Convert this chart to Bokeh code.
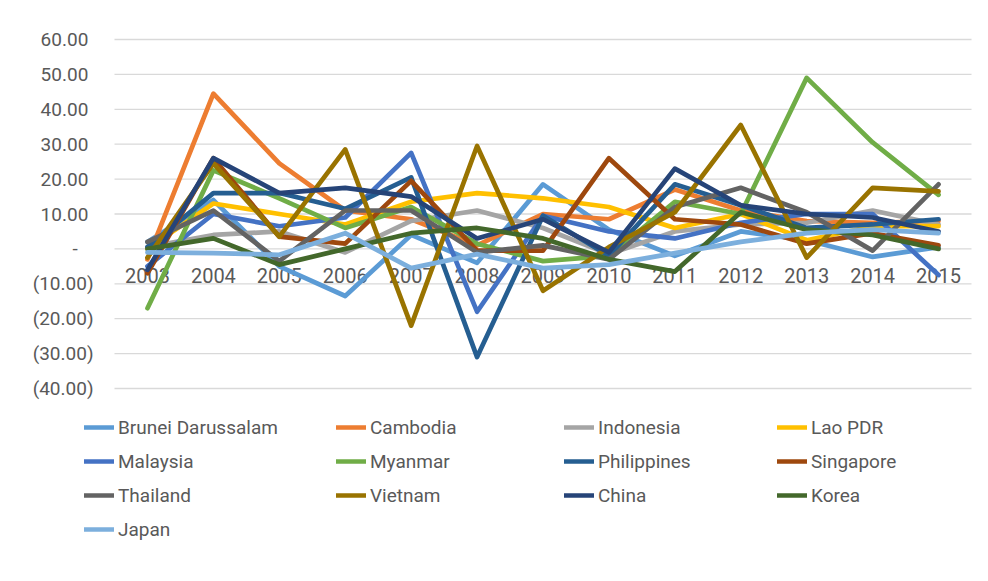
from bokeh.plotting import figure
from bokeh.models import Range1d, Legend, LegendItem, ColumnDataSource
from bokeh.core.properties import value
from bokeh.embed import file_html
from bokeh.resources import INLINE

years = [2003, 2004, 2005, 2006, 2007, 2008, 2009, 2010, 2011, 2012, 2013, 2014, 2015]

brunei = [2, 14, -5, -13.5, 4, -4, 18.5, 5.5, -2, 5, 2.5, -2.3, 0.5]
cambodia = [-3, 44.5, 24.5, 11, 8.5, 1, 10, 8.5, 17, 11, 8, 7.5, 8]
indonesia = [0.5, 4, 5, -1, 8, 11, 6, -1.5, 5, 7, 7.5, 11, 7]
lao = [0, 13, 10, 7, 13.5, 16, 14.5, 12, 6, 10, 2.5, 6.5, 6.5]
malaysia = [-5, 10, 6.5, 9, 27.5, -18, 9.5, 5, 3, 7.5, 10, 10, -7.5]
myanmar = [-17, 22.5, 14.5, 6, 12, 1.5, -3.5, -2, 13.5, 10, 49, 30.5, 15.5]
philippines = [0.5, 16, 16, 11.5, 20.5, -31, 9.5, -2, 18.5, 12.5, 6, 7, 8.5]
singapore = [-7, 26, 3.5, 1.5, 19.5, -0.5, -0.5, 26, 8.5, 7, 1.5, 4.5, 1]
thailand = [2, 11, -3.5, 11, 11, -1, 1, -3, 12, 17.5, 10.5, -0.5, 18.5]
vietnam = [-2.5, 24.5, 3.5, 28.5, -22, 29.5, -12, 0.5, 10.5, 35.5, -2.5, 17.5, 16.5]
china = [-6, 26, 16, 17.5, 15, 3, 8.5, -1, 23, 12.5, 10, 9, 5]
korea = [0, 3, -4.5, 0, 4.5, 6, 3, -3, -6.5, 10.5, 5.5, 4, 0]
japan = [-1, -1.2, -1.7, 4.5, -5.5, -1.5, -5.5, -4.5, -1.2, 2, 4.5, 5.5, 4.5]

names = ["Brunei Darussalam", "Cambodia", "Indonesia", "Lao PDR", "Malaysia", "Myanmar",
         "Philippines", "Singapore", "Thailand", "Vietnam", "China", "Korea", "Japan"]
series = [brunei, cambodia, indonesia, lao, malaysia, myanmar, philippines, singapore,
          thailand, vietnam, china, korea, japan]
colors = ["#5B9BD5", "#ED7D31", "#A5A5A5", "#FFC000", "#4472C4", "#70AD47", "#255E91",
          "#9E480E", "#636363", "#997300", "#264478", "#43682B", "#7CAFDD"]

y_ticks = [-40, -30, -20, -10, 0, 10, 20, 30, 40, 50, 60]

def fmt(v):
    if v == 0:
        return "-\u2007\u2008"
    if v < 0:
        return "(%.2f)" % abs(v)
    return "%.2f\u2008" % v

FONT = "Roboto"
TXT = "#595959"
W, H = 972, 565

# plot-area geometry (pixels) of the value region inside the full-size frame
PL, PR, PT, PB = 114, 971, 39, 388
x_lo, x_hi = years[0] - 0.5, years[-1] + 0.5
y_lo, y_hi = y_ticks[0], y_ticks[-1]
kx = (PR - PL) / (x_hi - x_lo)
ky = (PB - PT) / (y_hi - y_lo)

p = figure(width=W, height=H, output_backend="svg", toolbar_location=None,
           x_range=Range1d(x_lo - PL / kx, x_hi + (W - PR) / kx),
           y_range=Range1d(y_lo - (H - PB) / ky, y_hi + PT / ky),
           min_border=0)
p.outline_line_color = None
p.axis.visible = False
p.grid.visible = False

# horizontal gridlines
n = len(y_ticks)
p.segment(x0=[x_lo] * n, x1=[x_hi] * n, y0=y_ticks, y1=y_ticks,
          line_color="#D9D9D9", line_width=1.3)

# value axis labels
ysrc = ColumnDataSource(dict(x=[x_lo] * n, y=y_ticks, t=[fmt(t) for t in y_ticks]))
p.text(x="x", y="y", text="t", source=ysrc, text_font=value(FONT), text_font_size="19px",
       text_color=TXT, text_align="right", text_baseline="middle", x_offset=-21)

# category labels along the zero line
lab_src = ColumnDataSource(dict(x=years, y=[0] * len(years), t=[str(y) for y in years]))
p.text(x="x", y="y", text="t", source=lab_src, text_font=value(FONT), text_font_size="20px",
       text_color=TXT, text_align="center", text_baseline="middle", y_offset=27)

renderers = []
for name, vals, c in zip(names, series, colors):
    r = p.line(years, vals, line_color=c, line_width=4.7, line_cap="round", line_join="round")
    renderers.append((name, r))

cols = [[0, 4, 8, 12], [1, 5, 9], [2, 6, 10], [3, 7, 11]]
xs = [84, 336, 564, 777]
ROWH, GAP = 24, 10
top = 415
for ci, idxs in enumerate(cols):
    items = [LegendItem(label=renderers[i][0], renderers=[renderers[i][1]]) for i in idxs]
    m = len(idxs)
    h = m * ROWH + (m - 1) * GAP
    lg = Legend(items=items, location=(xs[ci], H - (top + h)),
                glyph_width=30, glyph_height=ROWH, label_standoff=4, padding=0, margin=0,
                spacing=GAP, label_height=ROWH, border_line_color=None, background_fill_alpha=0,
                label_text_font=FONT, label_text_font_size="19px", label_text_color=TXT)
    p.add_layout(lg, "center")

open("out.html", "w").write(file_html(p, INLINE))
